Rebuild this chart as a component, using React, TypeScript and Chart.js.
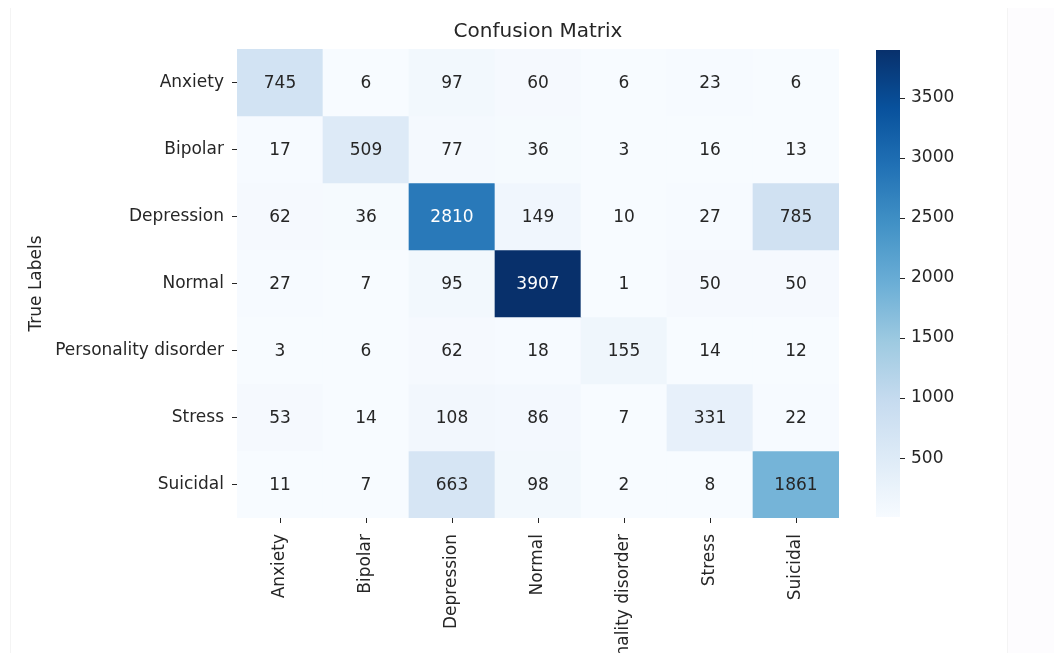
import React, { useEffect, useRef } from 'react';
import { Chart, registerables } from 'chart.js';

Chart.register(...registerables);

const classLabels = ['Anxiety', 'Bipolar', 'Depression', 'Normal', 'Personality disorder', 'Stress', 'Suicidal'];

const rowAnxiety = [745, 6, 97, 60, 6, 23, 6];
const rowBipolar = [17, 509, 77, 36, 3, 16, 13];
const rowDepression = [62, 36, 2810, 149, 10, 27, 785];
const rowNormal = [27, 7, 95, 3907, 1, 50, 50];
const rowPersonality = [3, 6, 62, 18, 155, 14, 12];
const rowStress = [53, 14, 108, 86, 7, 331, 22];
const rowSuicidal = [11, 7, 663, 98, 2, 8, 1861];

const matrixRows = [rowAnxiety, rowBipolar, rowDepression, rowNormal, rowPersonality, rowStress, rowSuicidal];

const colorbarTicks = [500, 1000, 1500, 2000, 2500, 3000, 3500];

const chartTitle = 'Confusion Matrix';
const yAxisTitle = 'True Labels';

const BLUES = ['#f7fbff', '#deebf7', '#c6dbef', '#9ecae1', '#6baed6', '#4292c6', '#2171b5', '#08519c', '#08306b'];
const FONT = "'DejaVu Sans', 'Noto Sans', sans-serif";
const TEXT = '#262626';

function hexToRgb(h: string): number[] {
  return [parseInt(h.slice(1, 3), 16), parseInt(h.slice(3, 5), 16), parseInt(h.slice(5, 7), 16)];
}

function bluesRgb(t: number): number[] {
  let idx = Math.floor(Math.max(0, Math.min(1, t)) * 256);
  if (idx > 255) idx = 255;
  const tt = idx / 255;
  const pos = tt * (BLUES.length - 1);
  const i = Math.min(BLUES.length - 2, Math.floor(pos));
  const f = pos - i;
  const a = hexToRgb(BLUES[i]);
  const b = hexToRgb(BLUES[i + 1]);
  return a.map((v, k) => v + (b[k] - v) * f);
}

function rgbStr(c: number[]): string {
  return `rgb(${Math.round(c[0])},${Math.round(c[1])},${Math.round(c[2])})`;
}

function luminance(c: number[]): number {
  const lin = c.map((v) => {
    const s = v / 255;
    return s <= 0.03928 ? s / 12.92 : Math.pow((s + 0.055) / 1.055, 2.4);
  });
  return 0.2126 * lin[0] + 0.7152 * lin[1] + 0.0722 * lin[2];
}

export default function App() {
  const ref = useRef<HTMLCanvasElement>(null);

  useEffect(() => {
    const canvas = ref.current;
    if (!canvas) return;
    const all = matrixRows.flat();
    const vmin = Math.min(...all);
    const vmax = Math.max(...all);
    const norm = (v: number) => (v - vmin) / (vmax - vmin);

    const datasets = matrixRows.map((row, r) => ({
      label: classLabels[r],
      data: row.map(() => [r, r + 1]),
      backgroundColor: row.map((v) => rgbStr(bluesRgb(norm(v)))),
      borderWidth: 0,
      barPercentage: 1,
      categoryPercentage: 1,
      grouped: false,
    }));

    const cardPlugin = {
      id: 'card',
      beforeDraw(chart: any) {
        const { ctx, width, height } = chart;
        ctx.save();
        ctx.fillStyle = '#ffffff';
        ctx.fillRect(0, 0, width, height);
        ctx.fillStyle = '#fdfcfe';
        ctx.fillRect(1000, 0, width - 1000, height);
        ctx.strokeStyle = '#f4f4f4';
        ctx.lineWidth = 1;
        ctx.beginPath();
        ctx.moveTo(2.5, height);
        ctx.lineTo(2.5, 0);
        ctx.moveTo(999.5, 0);
        ctx.lineTo(999.5, height);
        ctx.stroke();
        ctx.restore();
      },
    };

    const annotatePlugin = {
      id: 'annotate',
      afterDatasetsDraw(chart: any) {
        const ctx = chart.ctx;
        ctx.save();
        ctx.font = `17px ${FONT}`;
        ctx.textAlign = 'center';
        ctx.textBaseline = 'middle';
        matrixRows.forEach((row, r) => {
          const meta = chart.getDatasetMeta(r);
          meta.data.forEach((el: any, c: number) => {
            const p = el.getProps(['x', 'y', 'base'], true);
            const lum = luminance(bluesRgb(norm(row[c])));
            ctx.fillStyle = lum > 0.408 ? TEXT : '#ffffff';
            ctx.fillText(String(row[c]), p.x, (p.y + p.base) / 2 + 1);
          });
        });
        ctx.restore();
      },
    };

    const colorbarPlugin = {
      id: 'colorbar',
      afterDraw(chart: any) {
        const s = chart.scales.cb;
        const ctx = chart.ctx;
        const top = s.getPixelForValue(vmax);
        const bottom = s.getPixelForValue(vmin);
        const x0 = s.left + 37;
        const w = 24;
        ctx.save();
        const g = ctx.createLinearGradient(0, bottom, 0, top);
        BLUES.forEach((c, i) => g.addColorStop(i / (BLUES.length - 1), c));
        ctx.fillStyle = g;
        ctx.fillRect(x0, top + 1, w, bottom - top - 2);
        ctx.strokeStyle = TEXT;
        ctx.lineWidth = 1;
        s.ticks.forEach((t: any) => {
          const y = Math.round(s.getPixelForValue(t.value)) + 0.5;
          ctx.beginPath();
          ctx.moveTo(x0 + w, y);
          ctx.lineTo(x0 + w + 5, y);
          ctx.stroke();
        });
        ctx.restore();
      },
    };

    const chart = new Chart(canvas, {
      type: 'bar',
      data: { labels: classLabels, datasets: datasets as any },
      plugins: [cardPlugin, annotatePlugin, colorbarPlugin],
      options: {
        animation: false,
        responsive: true,
        maintainAspectRatio: false,
        events: [],
        layout: { padding: { left: 14, right: 0, top: 0, bottom: 0 } },
        plugins: {
          legend: { display: false },
          tooltip: { enabled: false },
          title: {
            display: true,
            text: chartTitle,
            color: TEXT,
            font: { family: FONT, size: 20, weight: 'normal' },
            padding: { top: 12, bottom: 5 },
          },
        },
        scales: {
          x: {
            type: 'category',
            offset: true,
            grid: {
              display: true,
              drawOnChartArea: false,
              drawTicks: true,
              tickLength: 5,
              color: TEXT,
              offset: false,
            },
            border: { display: false },
            ticks: {
              autoSkip: false,
              maxRotation: 90,
              minRotation: 90,
              padding: 11,
              color: TEXT,
              font: { family: FONT, size: 17 },
            },
            afterFit: (s: any) => {
              s.height = 143;
              s.paddingLeft = 0;
              s.paddingRight = 0;
            },
          },
          y: {
            type: 'linear',
            min: 0,
            max: 7,
            reverse: true,
            afterBuildTicks: (s: any) => {
              s.ticks = classLabels.map((_, i) => ({ value: i + 0.5 }));
            },
            ticks: {
              padding: 8,
              color: TEXT,
              font: { family: FONT, size: 17 },
              callback: (_v: any, i: number) => classLabels[i],
            },
            grid: {
              display: true,
              drawOnChartArea: false,
              drawTicks: true,
              tickLength: 5,
              color: TEXT,
            },
            border: { display: false },
            title: {
              display: true,
              text: yAxisTitle,
              color: TEXT,
              font: { family: FONT, size: 17 },
              padding: { top: 4, bottom: 0 },
            },
            afterFit: (s: any) => {
              s.width = 215;
              s.paddingTop = 0;
              s.paddingBottom = 0;
            },
          },
          cb: {
            type: 'linear',
            position: 'right',
            min: vmin,
            max: vmax,
            afterBuildTicks: (s: any) => {
              s.ticks = colorbarTicks.map((v) => ({ value: v }));
            },
            ticks: {
              padding: 72,
              color: TEXT,
              font: { family: FONT, size: 17 },
              callback: (v: any) => String(v),
            },
            grid: { display: false, drawTicks: false },
            border: { display: false },
            afterFit: (s: any) => {
              s.width = 215;
              s.paddingTop = 0;
              s.paddingBottom = 0;
            },
          },
        } as any,
      },
    });

    return () => chart.destroy();
  }, []);

  return (
    <div style={{ position: 'relative', width: 1046, height: 653, marginBottom: -8 }}>
      <canvas ref={ref} />
    </div>
  );
}
